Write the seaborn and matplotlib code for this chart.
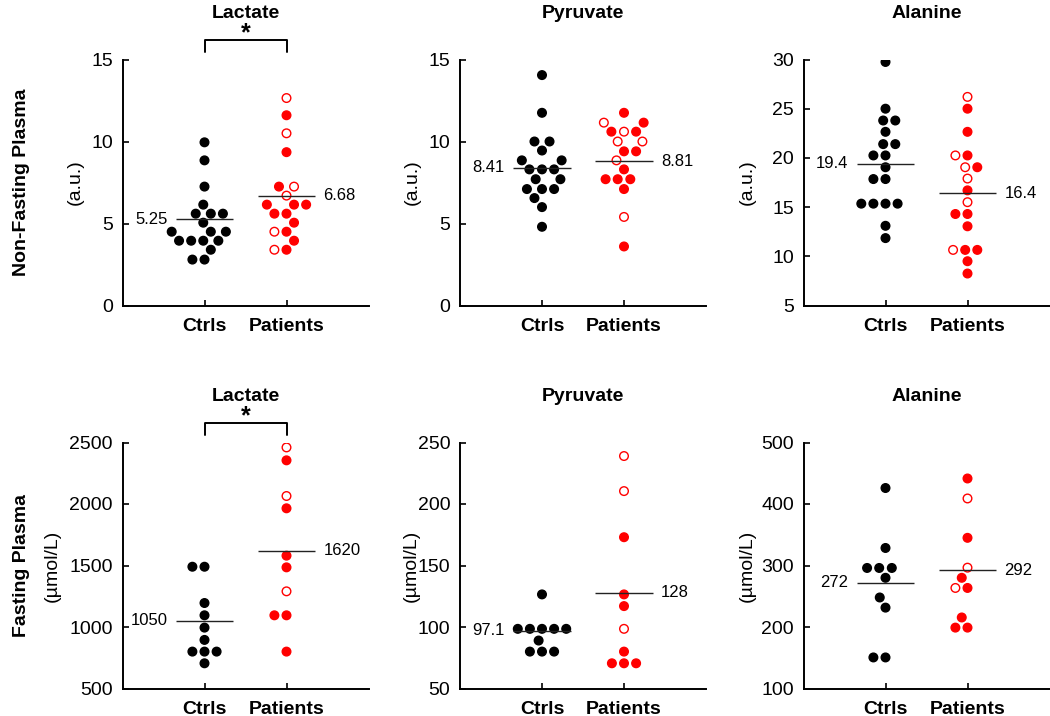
import matplotlib
matplotlib.use("Agg")
import matplotlib.pyplot as plt
import matplotlib.transforms as mtransforms
import pandas as pd
import seaborn as sns

GROUPS = ["Ctrls", "Patients"]

# Non-fasting plasma (a.u.)
nf_lac_ctrl = [9.95, 8.85, 7.25, 6.15, 5.6, 5.6, 5.6, 5.05, 4.5, 4.5, 4.5, 3.95, 3.95, 3.95, 3.95, 3.4, 2.8, 2.8]
nf_lac_pt = [11.6, 9.35, 7.25, 6.15, 6.15, 6.15, 5.6, 5.6, 5.05, 4.5, 3.95, 3.4]
nf_lac_pt_open = [12.65, 10.5, 7.25, 6.7, 4.5, 3.4]

nf_pyr_ctrl = [14.05, 11.75, 10.0, 10.0, 9.45, 8.85, 8.85, 8.3, 8.3, 8.3, 7.7, 7.7, 7.1, 7.1, 7.1, 6.55, 6.0, 4.8]
nf_pyr_pt = [11.75, 11.15, 10.6, 10.6, 9.4, 9.4, 8.3, 7.7, 7.7, 7.7, 7.1, 3.6]
nf_pyr_pt_open = [11.15, 10.6, 10.0, 10.0, 8.85, 5.4]

nf_ala_ctrl = [29.75, 25.0, 23.8, 23.8, 22.65, 21.4, 21.4, 20.25, 20.25, 19.05, 17.85, 17.85,
               15.35, 15.35, 15.35, 15.35, 13.1, 11.85]
nf_ala_pt = [25.0, 22.65, 20.25, 19.05, 16.7, 14.3, 14.3, 13.05, 10.65, 10.65, 9.5, 8.25]
nf_ala_pt_open = [26.2, 20.25, 19.05, 17.9, 15.5, 10.65]

# Fasting plasma (umol/L)
f_lac_ctrl = [1490, 1490, 1195, 1095, 995, 895, 800, 800, 800, 705]
f_lac_pt = [2355, 1965, 1580, 1485, 1095, 1095, 800]
f_lac_pt_open = [2460, 2065, 1290]

f_pyr_ctrl = [126.5, 98.5, 98.5, 98.5, 98.5, 98.5, 89, 80, 80, 80]
f_pyr_pt = [173, 126.5, 117, 80, 70.5, 70.5, 70.5]
f_pyr_pt_open = [239, 210.5, 98.5]

f_ala_ctrl = [426, 328.5, 296, 296, 296, 280, 248, 231.5, 150.5, 150.5]
f_ala_pt = [441.5, 345, 280, 263.5, 215.5, 199, 199]
f_ala_pt_open = [409, 296.5, 263.5]

# group means shown next to the lines
mean_vals = [[5.25, 6.68], [8.41, 8.81], [19.4, 16.4], [1050, 1620], [97.1, 128], [272, 292]]
mean_txt = [["5.25", "6.68"], ["8.41", "8.81"], ["19.4", "16.4"], ["1050", "1620"], ["97.1", "128"], ["272", "292"]]

titles = ["Lactate", "Pyruvate", "Alanine"] * 2
ylabels = ["(a.u.)"] * 3 + ["(\u00b5mol/L)"] * 3
ylims = [(0, 15), (0, 15), (5, 30), (500, 2500), (50, 250), (100, 500)]
ytick_steps = [5, 5, 5, 500, 50, 100]
significant = [True, False, False, True, False, False]
row_labels = ["Non-Fasting Plasma", "Fasting Plasma"]

panels = [
    (nf_lac_ctrl, nf_lac_pt, nf_lac_pt_open),
    (nf_pyr_ctrl, nf_pyr_pt, nf_pyr_pt_open),
    (nf_ala_ctrl, nf_ala_pt, nf_ala_pt_open),
    (f_lac_ctrl, f_lac_pt, f_lac_pt_open),
    (f_pyr_ctrl, f_pyr_pt, f_pyr_pt_open),
    (f_ala_ctrl, f_ala_pt, f_ala_pt_open),
]

sns.set_style("ticks")
plt.rcParams["font.family"] = ["Liberation Sans", "DejaVu Sans"]
plt.rcParams["text.color"] = "black"
plt.rcParams["axes.labelcolor"] = "black"

W, H = 1050, 716
fig = plt.figure(figsize=(W / 100, H / 100), dpi=100)

col_left = [122.5, 460, 803.5]
row_top = [59.5, 442.5]
ax_w, ax_h = 246, 246
# x of the y-label's right edge, in axes fraction
ylabel_x = [-0.157, -0.159, -0.193, -0.25, -0.163, -0.193]

swarm_size = 7.3   # spacing used while the swarm is laid out
dot_size = 6.2     # size the dots are drawn at

axes = []
for i, (ctrl, pt, pt_open) in enumerate(panels):
    r, c = divmod(i, 3)
    ax = fig.add_axes([col_left[c] / W, 1 - (row_top[r] + ax_h) / H, ax_w / W, ax_h / H])
    axes.append(ax)

    df = pd.DataFrame({
        "group": ["Ctrls"] * len(ctrl) + ["Patients"] * (len(pt) + len(pt_open)),
        "value": ctrl + pt + pt_open,
        "kind": ["ctrl"] * len(ctrl) + ["filled"] * len(pt) + ["open"] * len(pt_open),
    })
    sns.swarmplot(data=df, x="group", y="value", hue="kind", order=GROUPS,
                  palette={"ctrl": "black", "filled": "red", "open": "white"},
                  size=swarm_size, linewidth=1, legend=False, ax=ax)
    ax.collections[0].set_edgecolor("black")
    ax.collections[1].set_edgecolor("red")

    # mean lines and values
    for j in range(2):
        ax.hlines(mean_vals[i][j], j - 0.35, j + 0.35, color="#222222", lw=1, zorder=5)
    ax.annotate(mean_txt[i][0], (-0.35, mean_vals[i][0]), xytext=(-6, 0), textcoords="offset points",
                ha="right", va="center", fontsize=12)
    ax.annotate(mean_txt[i][1], (1.35, mean_vals[i][1]), xytext=(6, 0), textcoords="offset points",
                ha="left", va="center", fontsize=12)

    lo, hi = ylims[i]
    ax.set_ylim(lo, hi)
    step = ytick_steps[i]
    ax.set_yticks(range(lo, hi + 1, step))
    ax.set_xlim(-1, 2)
    ax.set_xticks([0, 1])
    ax.set_xticklabels(GROUPS, fontweight="bold")
    ax.set_xlabel("")
    ax.set_ylabel(ylabels[i], fontsize=14)
    ax.yaxis.set_label_coords(ylabel_x[i], 0.5)
    ax.set_title(titles[i], fontsize=14, fontweight="bold", pad=30)

    sns.despine(ax=ax)
    for side in ["left", "bottom"]:
        ax.spines[side].set_linewidth(1.4)
        ax.spines[side].set_color("black")
    ax.tick_params(direction="in", length=4, width=1.2, labelsize=14, colors="black")
    ax.tick_params(axis="y", pad=7)
    ax.tick_params(axis="x", pad=9)

    if significant[i]:
        trans = mtransforms.blended_transform_factory(ax.transData, ax.transAxes)
        ax.plot([0, 0, 1, 1], [1.032, 1.078, 1.078, 1.032], color="black", lw=1.4,
                transform=trans, clip_on=False)
        ax.text(0.5, 1.105, "*", transform=trans, ha="center", va="center",
                fontsize=18, fontweight="bold")

for r, label in enumerate(row_labels):
    yc = 1 - (row_top[r] + ax_h / 2) / H
    fig.text(22 / W, yc, label, rotation=90, ha="center", va="center",
             fontsize=14, fontweight="bold")

# lay out the swarms with the wider spacing, then keep those positions and shrink the dots
fig.canvas.draw()
for ax in axes:
    for coll in ax.collections[:2]:
        if "draw" in coll.__dict__:
            del coll.draw
        coll.set_sizes([dot_size ** 2])

fig.savefig("out.png", dpi=100)
